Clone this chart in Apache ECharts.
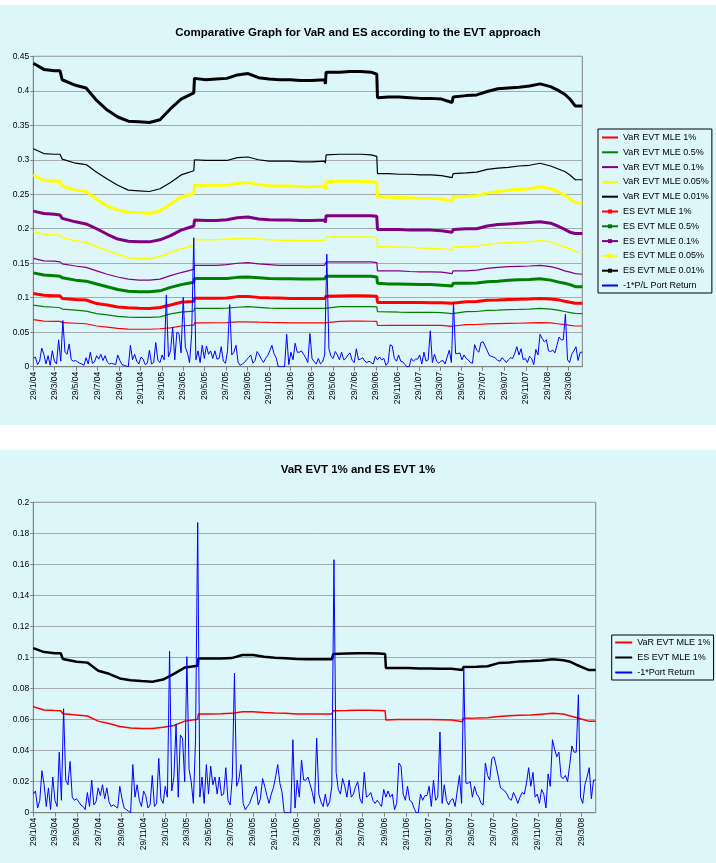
<!DOCTYPE html>
<html>
<head>
<meta charset="utf-8">
<script src="https://cdn.jsdelivr.net/npm/echarts@6/dist/echarts.min.js"></script>
<style>
html,body{margin:0;padding:0;background:#ffffff;}
#top{position:absolute;left:0;top:5px;width:716px;height:420px;background:#ddf6f9;}
#bottom{position:absolute;left:0;top:450px;width:716px;height:413px;background:#ddf6f9;}
</style>
</head>
<body>
<div id="top"></div>
<div id="bottom"></div>
<script>
// ---------- DATA ----------
const xTickLabels = ['29/1/04','29/3/04','29/5/04','29/7/04','29/9/04','29/11/04',
  '29/1/05','29/3/05','29/5/05','29/7/05','29/9/05','29/11/05',
  '29/1/06','29/3/06','29/5/06','29/7/06','29/9/06','29/11/06',
  '29/1/07','29/3/07','29/5/07','29/7/07','29/9/07','29/11/07',
  '29/1/08','29/3/08'];
const firstDate = '29/1/04';
const lastDay = 1560;            // days after 29/1/04 (early May 2008)

// days after 29/1/04 at which the risk lines are read
const lineDays = [0,30,60,76,82,120,150,180,210,240,
  270,300,330,360,390,420,456,458,490,520,
  550,580,610,640,670,700,730,760,790,828,
  830,832,870,900,930,960,976,978,1010,1040,
  1070,1100,1130,1160,1190,1193,1230,1260,1290,1320,
  1350,1380,1410,1440,1470,1490,1510,1525,1540,1560];

const varMle1 = [0.0683,0.0662,0.0658,0.0657,0.0638,0.0630,0.0623,0.0590,0.0575,0.0555,
  0.0545,0.0543,0.0543,0.0550,0.0562,0.0590,0.0602,0.0636,0.0636,0.0637,
  0.0640,0.0650,0.0650,0.0645,0.0642,0.0640,0.0636,0.0636,0.0636,0.0636,
  0.0632,0.0657,0.0658,0.0660,0.0660,0.0659,0.0657,0.0597,0.0600,0.0600,
  0.0600,0.0600,0.0599,0.0598,0.0586,0.0608,0.0610,0.0612,0.0620,0.0625,
  0.0628,0.0630,0.0635,0.0640,0.0636,0.0623,0.0610,0.0600,0.0590,0.0590];
const varMle05 = [0.0894,0.0870,0.0862,0.0855,0.0835,0.0820,0.0806,0.0770,0.0750,0.0730,
  0.0720,0.0715,0.0715,0.0722,0.0765,0.0790,0.0806,0.0845,0.0845,0.0845,
  0.0848,0.0862,0.0870,0.0860,0.0850,0.0845,0.0845,0.0845,0.0845,0.0845,
  0.0830,0.0870,0.0870,0.0870,0.0870,0.0870,0.0868,0.0797,0.0795,0.0790,
  0.0789,0.0787,0.0787,0.0785,0.0770,0.0797,0.0798,0.0800,0.0816,0.0820,
  0.0826,0.0830,0.0836,0.0845,0.0836,0.0820,0.0800,0.0785,0.0772,0.0770];
const varMle01 = [0.157,0.1535,0.153,0.152,0.149,0.146,0.144,0.139,0.134,0.130,
  0.127,0.1255,0.1255,0.127,0.132,0.1365,0.141,0.147,0.147,0.147,
  0.148,0.150,0.151,0.149,0.148,0.147,0.147,0.147,0.147,0.147,
  0.145,0.152,0.152,0.152,0.152,0.152,0.151,0.139,0.139,0.139,
  0.138,0.1375,0.1375,0.137,0.135,0.139,0.139,0.140,0.1425,0.144,
  0.145,0.1455,0.146,0.147,0.145,0.1425,0.139,0.137,0.135,0.134];
const varMle005 = [0.1955,0.192,0.191,0.191,0.187,0.1825,0.180,0.174,0.168,0.163,
  0.158,0.157,0.157,0.160,0.165,0.171,0.176,0.1845,0.184,0.184,
  0.185,0.186,0.187,0.185,0.184,0.1835,0.1835,0.183,0.183,0.1835,
  0.181,0.188,0.188,0.188,0.188,0.188,0.187,0.174,0.174,0.173,
  0.173,0.172,0.1715,0.171,0.169,0.174,0.174,0.175,0.177,0.179,
  0.180,0.1805,0.181,0.1825,0.181,0.177,0.174,0.171,0.167,0.1665];
const varMle001 = [0.316,0.309,0.308,0.308,0.301,0.295,0.293,0.282,0.272,0.263,
  0.256,0.255,0.254,0.258,0.267,0.278,0.284,0.300,0.299,0.299,
  0.299,0.303,0.304,0.300,0.298,0.298,0.298,0.297,0.297,0.298,
  0.295,0.307,0.308,0.308,0.308,0.307,0.305,0.280,0.280,0.279,
  0.279,0.278,0.278,0.277,0.274,0.280,0.281,0.282,0.286,0.288,
  0.289,0.291,0.292,0.295,0.291,0.287,0.283,0.278,0.271,0.271];
const esMle1 = [0.106,0.1035,0.1027,0.1027,0.0990,0.0973,0.0967,0.0915,0.0895,0.0865,
  0.0853,0.0848,0.0844,0.0858,0.0895,0.0935,0.0947,0.0994,0.0994,0.0994,
  0.0996,0.1016,0.1016,0.1005,0.0998,0.0995,0.0990,0.0988,0.0988,0.0988,
  0.0982,0.1022,0.1025,0.1027,0.1027,0.1025,0.1022,0.0932,0.0932,0.0932,
  0.0929,0.0929,0.0928,0.0928,0.0920,0.0938,0.0940,0.0944,0.0964,0.0968,
  0.0975,0.0977,0.0980,0.0988,0.0982,0.0972,0.0950,0.0935,0.0920,0.0920];
const esMle05 = [0.136,0.133,0.132,0.131,0.129,0.1255,0.124,0.120,0.116,0.112,
  0.1095,0.1085,0.1085,0.110,0.115,0.119,0.1225,0.128,0.128,0.128,
  0.128,0.1295,0.130,0.129,0.128,0.1275,0.1275,0.127,0.127,0.1275,
  0.1255,0.131,0.131,0.131,0.131,0.131,0.130,0.121,0.120,0.120,
  0.1195,0.119,0.119,0.118,0.117,0.121,0.121,0.1215,0.123,0.124,
  0.1255,0.126,0.1265,0.1275,0.1255,0.123,0.121,0.119,0.116,0.116];
const esMle01 = [0.2255,0.222,0.221,0.220,0.215,0.210,0.207,0.200,0.192,0.185,
  0.182,0.181,0.181,0.184,0.190,0.198,0.204,0.2125,0.212,0.212,
  0.213,0.216,0.217,0.214,0.213,0.2125,0.2125,0.212,0.212,0.2125,
  0.209,0.219,0.219,0.219,0.219,0.219,0.218,0.199,0.199,0.199,
  0.198,0.198,0.198,0.197,0.195,0.199,0.200,0.200,0.204,0.206,
  0.207,0.208,0.209,0.210,0.208,0.204,0.199,0.195,0.193,0.193];
const esMle005 = [0.278,0.270,0.269,0.269,0.262,0.256,0.254,0.243,0.233,0.227,
  0.224,0.2235,0.222,0.226,0.236,0.246,0.251,0.263,0.263,0.263,
  0.263,0.266,0.267,0.264,0.262,0.262,0.262,0.261,0.261,0.262,
  0.258,0.268,0.269,0.269,0.269,0.268,0.267,0.246,0.246,0.245,
  0.245,0.244,0.244,0.243,0.240,0.246,0.247,0.248,0.252,0.254,
  0.256,0.257,0.258,0.261,0.258,0.254,0.249,0.243,0.238,0.237];
const esMle001 = [0.440,0.431,0.429,0.429,0.416,0.408,0.404,0.386,0.372,0.362,
  0.356,0.355,0.354,0.358,0.374,0.388,0.397,0.418,0.416,0.417,
  0.418,0.423,0.425,0.419,0.417,0.416,0.416,0.415,0.415,0.416,
  0.410,0.427,0.427,0.428,0.428,0.427,0.424,0.390,0.391,0.391,
  0.390,0.389,0.389,0.388,0.383,0.391,0.393,0.394,0.399,0.403,
  0.404,0.405,0.407,0.410,0.406,0.401,0.395,0.388,0.378,0.378];

// -1 * portfolio return, read every 6 days from 29/1/04
const lossStepDays = 6;
const portLoss = [
  0.012,0.014,0.003,0.008,0.027,0.018,0.004,0.016,0.002,0.023,
  0.008,0.004,0.039,0.008,0.067,0.021,0.018,0.033,0.010,0.008,
  0.009,0.007,0.005,0.004,0.002,0.013,0.004,0.021,0.005,0.007,
  0.016,0.011,0.018,0.009,0.016,0.007,0.004,0.005,0.004,0.003,
  0.017,0.009,0.003,0.002,0.001,0.000,0.031,0.010,0.018,0.008,
  0.004,0.014,0.011,0.003,0.005,0.024,0.004,0.006,0.035,0.009,
  0.006,0.017,0.010,0.104,0.014,0.023,0.057,0.010,0.050,0.048,
  0.020,0.1005,0.028,0.020,0.006,0.047,0.187,0.010,0.023,0.006,
  0.031,0.012,0.030,0.018,0.023,0.012,0.023,0.011,
  0.012,0.029,0.008,0.005,0.023,0.090,0.017,0.021,0.031,0.006,
  0.002,0.004,0.006,0.010,0.0135,0.017,0.005,0.009,0.022,0.017,
  0.011,0.006,0.012,0.016,0.023,0.031,0.019,0.013,0.000,0.000,
  0.000,0.000,0.047,0.003,0.021,0.010,0.034,0.021,0.021,0.023,
  0.018,0.013,0.006,0.048,0.012,0.007,0.004,0.012,0.004,0.007,
  0.017,0.163,0.026,0.015,0.012,0.022,0.017,0.010,0.021,0.010,
  0.012,0.017,0.020,0.009,0.006,0.026,0.010,0.011,0.013,0.008,
  0.006,0.008,0.006,0.004,0.015,0.010,0.014,0.010,0.012,0.002,
  0.006,0.032,0.030,0.012,0.008,0.017,0.008,
  0.007,0.003,0.000,0.000,0.012,0.008,0.011,0.011,0.017,0.004,
  0.021,0.008,0.010,0.052,0.006,0.018,0.008,0.005,0.008,0.009,
  0.004,0.014,0.024,0.006,0.093,0.019,0.019,0.020,0.010,0.017,
  0.012,0.010,0.006,0.005,0.032,0.024,0.021,0.035,0.036,0.030,
  0.023,0.016,0.015,0.014,0.012,0.009,0.008,0.013,0.010,0.006,
  0.010,0.013,0.012,0.019,0.029,0.017,0.026,0.010,0.012,0.006,
  0.015,0.012,0.003,0.025,0.017,0.047,0.041,0.036,0.039,0.023,
  0.022,0.024,0.020,0.031,0.043,0.039,0.039,0.076,0.010,0.006,
  0.018,0.023,0.029,0.009,0.021,0.021];

// ---------- HELPERS ----------
const FONT = '"Liberation Sans", Arial, sans-serif';
function parseDMY(s){ const p = s.split('/').map(Number); return Date.UTC(2000 + p[2], p[1]-1, p[0]); }
const t0 = parseDMY(firstDate);
const tickDays = xTickLabels.map(s => Math.round((parseDMY(s) - t0) / 86400000));
const labelByDay = new Map(tickDays.map((d,i) => [d, xTickLabels[i]]));

function xAxisCfg(){
  return {
    type:'value', min:0, max:lastDay,
    axisLine:{show:true, lineStyle:{color:'#808080', width:1}},
    splitLine:{show:false},
    axisTick:{show:true, customValues:tickDays, length:4, lineStyle:{color:'#808080'}},
    axisLabel:{customValues:tickDays, rotate:90, margin:5, fontSize:8.5, color:'#000',
      fontFamily:FONT, formatter: v => labelByDay.get(Math.round(v)) || ''}
  };
}
function yAxisCfg(max, interval){
  return {
    type:'value', min:0, max:max, interval:interval,
    axisLine:{show:true, lineStyle:{color:'#808080', width:1}},
    axisTick:{show:true, length:3, lineStyle:{color:'#808080'}},
    splitLine:{show:true, lineStyle:{color:'#a2abad', width:1}},
    axisLabel:{fontSize:8.5, color:'#000', margin:4, fontFamily:FONT,
      formatter: v => String(parseFloat(Number(v).toFixed(3)))}
  };
}
function riskLine(name, values, color, width, marker){
  return {
    type:'line', name:name,
    data: lineDays.map((d,i) => [d, values[i]]),
    symbol: marker ? 'rect' : 'none', symbolSize:4, showSymbol:false,
    lineStyle:{color:color, width:width}, itemStyle:{color:color},
    emphasis:{disabled:true}, silent:true
  };
}
function lossLine(name){
  return {
    type:'line', name:name,
    data: portLoss.map((v,k) => [k*lossStepDays, v]),
    symbol:'none', showSymbol:false,
    lineStyle:{color:'#0000ff', width:1}, itemStyle:{color:'#0000ff'},
    emphasis:{disabled:true}, silent:true
  };
}
// legend entry: plain line (no marker) unless withMarker
function legendItem(name, withMarker){
  return withMarker ? {name:name} : {name:name, itemStyle:{opacity:0}};
}

// ---------- TOP CHART ----------
const topChart = echarts.init(document.getElementById('top'), null, {renderer:'canvas'});
const topNames = ['VaR EVT MLE 1%','VaR EVT MLE 0.5%','VaR EVT MLE 0.1%','VaR EVT MLE 0.05%','VaR EVT MLE 0.01%',
  'ES EVT MLE 1%','ES EVT MLE 0.5%','ES EVT MLE 0.1%','ES EVT MLE 0.05%','ES EVT MLE 0.01%','-1*P/L Port Return'];
topChart.setOption({
  animation:false,
  title:{text:'Comparative Graph for VaR and ES according to the EVT approach', left:'center', top:22, padding:0,
    textStyle:{fontSize:11.5, fontWeight:'bold', color:'#000', fontFamily:FONT}},
  grid:{left:33.3, top:51.3, width:549, height:310.4, show:true, borderColor:'#808080', borderWidth:1,
    backgroundColor:'transparent', outerBoundsMode:'none'},
  xAxis: xAxisCfg(),
  yAxis: yAxisCfg(0.45, 0.05),
  legend:{orient:'vertical', left:598, top:124, padding:[4,3,3,3], itemGap:5.8, itemWidth:16, itemHeight:5,
    borderColor:'#000', borderWidth:1, selectedMode:false, lineStyle:{width:2},
    textStyle:{fontSize:9, color:'#000', fontFamily:FONT},
    data: topNames.map((n,i) => legendItem(n, i >= 5 && i <= 9))},
  series:[
    riskLine(topNames[0], varMle1, '#ff0000', 1.2, false),
    riskLine(topNames[1], varMle05, '#008000', 1.2, false),
    riskLine(topNames[2], varMle01, '#800080', 1.2, false),
    riskLine(topNames[3], varMle005, '#ffff00', 1.5, false),
    riskLine(topNames[4], varMle001, '#000000', 1.2, false),
    riskLine(topNames[5], esMle1, '#ff0000', 3, true),
    riskLine(topNames[6], esMle05, '#008000', 3, true),
    riskLine(topNames[7], esMle01, '#800080', 3, true),
    riskLine(topNames[8], esMle005, '#ffff00', 3, true),
    riskLine(topNames[9], esMle001, '#000000', 3, true),
    lossLine(topNames[10])
  ]
});

// ---------- BOTTOM CHART ----------
const botChart = echarts.init(document.getElementById('bottom'), null, {renderer:'canvas'});
const botNames = ['VaR EVT MLE 1%','ES EVT MLE 1%','-1*Port Return'];
botChart.setOption({
  animation:false,
  title:{text:'VaR EVT 1% and ES EVT 1%', left:'center', top:14, padding:0,
    textStyle:{fontSize:11.5, fontWeight:'bold', color:'#000', fontFamily:FONT}},
  grid:{left:33.3, top:52.3, width:562.4, height:310.4, show:true, borderColor:'#808080', borderWidth:1,
    backgroundColor:'transparent', outerBoundsMode:'none'},
  xAxis: xAxisCfg(),
  yAxis: yAxisCfg(0.2, 0.02),
  legend:{orient:'vertical', left:611.7, top:185, padding:[3,3,3,2.5], itemGap:6, itemWidth:17, itemHeight:5,
    borderColor:'#000', borderWidth:1, selectedMode:false, lineStyle:{width:2},
    textStyle:{fontSize:9, color:'#000', fontFamily:FONT},
    data: botNames.map(n => legendItem(n, false))},
  series:[
    riskLine(botNames[0], varMle1, '#ff0000', 1.5, false),
    riskLine(botNames[1], esMle1, '#000000', 2.5, false),
    lossLine(botNames[2])
  ]
});
</script>
</body>
</html>
